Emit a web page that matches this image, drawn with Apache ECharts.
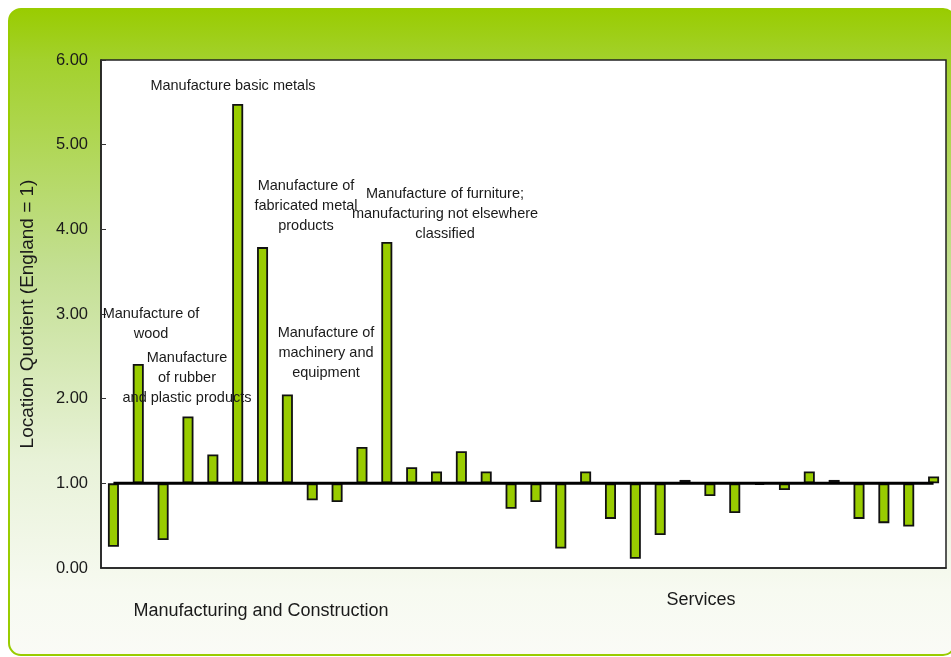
<!DOCTYPE html>
<html>
<head>
<meta charset="utf-8">
<title>Location Quotient</title>
<script src="https://cdn.jsdelivr.net/npm/echarts@6/dist/echarts.min.js"></script>
<style>
  html, body { margin: 0; padding: 0; background: #fff; }
  #main { width: 951px; height: 657px; }
</style>
</head>
<body>
<div id="main"></div>
<script>
var myChart = echarts.init(document.getElementById('main'));

// industries, left to right (manufacturing & construction, then services)
var categories = ['1','2','3','4','5','6','7','8','9','10','11','12','13','14','15','16','17',
                  '18','19','20','21','22','23','24','25','26','27','28','29','30','31','32','33','34'];
// location quotient per industry (England = 1)
var lq = [0.25, 2.41, 0.33, 1.79, 1.34, 5.48, 3.79, 2.05, 0.80, 0.78, 1.43, 3.85, 1.19, 1.14, 1.38, 1.14, 0.70,
          0.78, 0.23, 1.14, 0.58, 0.11, 0.39, 1.04, 0.85, 0.65, 0.98, 0.92, 1.14, 1.04, 0.58, 0.53, 0.49, 1.08];
var yTicks = [0, 1, 2, 3, 4, 5, 6];
var england = 1;

// bars hang from the England line: invisible base + visible part
var base = lq.map(function (v) { return Math.min(v, england) });
var diff = lq.map(function (v) { return Math.abs(v - england) });
var refLine = categories.map(function () { return england });

var font = 'Liberation Sans, Arial, sans-serif';

function note(lines, x, y) {
    return {
        type: 'text',
        x: x, y: y,
        z: 50,
        style: {
            text: lines.join('\n'),
            fill: '#1a1a1a',
            font: '14.5px ' + font,
            align: 'center',
            verticalAlign: 'top',
            lineHeight: 20
        }
    }
}

var option = {
    animation: false,
    textStyle: { fontFamily: font },
    grid: {
        left: 101, right: 5, top: 60, bottom: 89,
        show: true,
        backgroundColor: '#fff',
        borderColor: '#222',
        borderWidth: 1.5
    },
    graphic: [
        {
            type: 'rect',
            z: -100,
            silent: true,
            shape: { x: 9, y: 9, width: 946, height: 646, r: 12 },
            style: {
                fill: new echarts.graphic.LinearGradient(0, 0, 0, 1, [
                    { offset: 0, color: '#99CC00' },
                    { offset: 0.08, color: '#A3D12C' },
                    { offset: 0.4, color: '#C3DF92' },
                    { offset: 0.7, color: '#E8F2D8' },
                    { offset: 0.9, color: '#F7FAF1' },
                    { offset: 1, color: '#FAFBF6' }
                ]),
                stroke: '#99CC00',
                lineWidth: 2
            }
        },
        note(['Manufacture basic metals'], 233, 76),
        note(['Manufacture of', 'fabricated metal', 'products'], 306, 176),
        note(['Manufacture of furniture;', 'manufacturing not elsewhere', 'classified'], 445, 184),
        note(['Manufacture of', 'wood'], 151, 304),
        note(['Manufacture', 'of rubber', 'and plastic products'], 187, 348),
        note(['Manufacture of', 'machinery and', 'equipment'], 326, 323),
        {
            type: 'text', x: 261, y: 611, z: 50,
            style: { text: 'Manufacturing and Construction', fill: '#1a1a1a', font: '18px ' + font,
                     align: 'center', verticalAlign: 'middle' }
        },
        {
            type: 'text', x: 701, y: 600, z: 50,
            style: { text: 'Services', fill: '#1a1a1a', font: '18px ' + font,
                     align: 'center', verticalAlign: 'middle' }
        }
    ],
    xAxis: {
        type: 'category',
        data: categories,
        axisLine: { show: true, lineStyle: { color: '#222', width: 1.5 } },
        axisTick: { show: false },
        axisLabel: { show: false },
        splitLine: { show: false }
    },
    yAxis: {
        type: 'value',
        min: yTicks[0],
        max: yTicks[yTicks.length - 1],
        interval: 1,
        name: 'Location Quotient (England = 1)',
        nameLocation: 'middle',
        nameGap: 64,
        nameTextStyle: { fontSize: 19, color: '#1a1a1a', fontFamily: font },
        axisLine: { show: true, lineStyle: { color: '#222', width: 1.5 } },
        axisTick: { show: true, inside: true, length: 5, lineStyle: { color: '#333' } },
        axisLabel: {
            fontSize: 16.5, color: '#1a1a1a', margin: 13,
            formatter: function (v) { return v.toFixed(2) }
        },
        splitLine: { show: false }
    },
    series: [
        {
            name: 'base',
            type: 'bar',
            stack: 'lq',
            barWidth: 11,
            silent: true,
            itemStyle: { color: 'transparent', borderWidth: 0 },
            data: base
        },
        {
            name: 'LQ',
            type: 'bar',
            stack: 'lq',
            barWidth: 11,
            itemStyle: { color: '#99CC00', borderColor: '#111', borderWidth: 1.8 },
            data: diff
        },
        {
            name: 'England',
            type: 'line',
            z: 5,
            symbol: 'none',
            lineStyle: { color: '#000', width: 3 },
            data: refLine
        }
    ]
};

myChart.setOption(option);
</script>
</body>
</html>
